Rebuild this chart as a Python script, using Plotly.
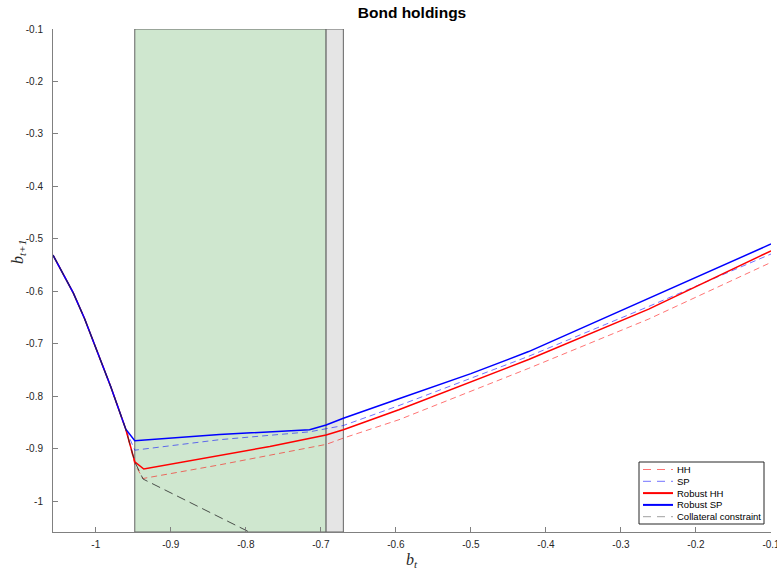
import plotly.graph_objects as go

# Common left branch (all policies coincide; collateral constraint binds)
x_left = [-1.057, -1.045, -1.03, -1.015, -1.0, -0.98, -0.96]
y_left = [-0.531, -0.562, -0.603, -0.652, -0.708, -0.782, -0.863]

# HH (dashed red)
x_hh = [-0.948, -0.937, -0.835, -0.693, -0.670, -0.596, -0.423, -0.263, -0.1]
y_hh = [-0.930, -0.957, -0.931, -0.892, -0.880, -0.845, -0.747, -0.653, -0.545]

# SP (dashed blue)
x_sp = [-0.948, -0.835, -0.715, -0.670, -0.596, -0.423, -0.263, -0.1]
y_sp = [-0.903, -0.883, -0.868, -0.856, -0.818, -0.724, -0.629, -0.529]

# Robust HH (solid red)
x_rhh = [-0.948, -0.936, -0.835, -0.768, -0.693, -0.670, -0.596, -0.423, -0.263, -0.1]
y_rhh = [-0.925, -0.939, -0.913, -0.896, -0.874, -0.864, -0.826, -0.730, -0.634, -0.523]

# Robust SP (solid blue)
x_rsp = [-0.948, -0.835, -0.715, -0.693, -0.670, -0.596, -0.5, -0.423, -0.263, -0.1]
y_rsp = [-0.885, -0.873, -0.864, -0.855, -0.842, -0.805, -0.757, -0.715, -0.613, -0.510]

# Collateral constraint (continuation after the left branch)
x_cc = [-0.948, -0.937, -0.80, -0.78]
y_cc = [-0.925, -0.958, -1.056, -1.070]

# Shaded regions
green_x = [-0.948, -0.693]
gray_x = [-0.693, -0.670]

x_ticks = [-1, -0.9, -0.8, -0.7, -0.6, -0.5, -0.4, -0.3, -0.2, -0.1]
x_ticklabels = ["-1", "-0.9", "-0.8", "-0.7", "-0.6", "-0.5", "-0.4", "-0.3", "-0.2", "-0.1"]
y_ticks = [-1, -0.9, -0.8, -0.7, -0.6, -0.5, -0.4, -0.3, -0.2, -0.1]
y_ticklabels = ["-1", "-0.9", "-0.8", "-0.7", "-0.6", "-0.5", "-0.4", "-0.3", "-0.2", "-0.1"]

legend_names = ["HH", "SP", "Robust HH", "Robust SP", "Collateral constraint"]

x_range = [-1.057, -0.1]
y_range = [-1.059, -0.1]

W, H = 777, 569
ML, MR, MT, MB = 53, 6, 29, 37
PW, PH = W - ML - MR, H - MT - MB


def px(xp):
    return (xp - ML) / PW


def py(yp):
    return (H - MB - yp) / PH


hh_line = dict(color="rgba(255,0,0,0.55)", width=1, dash="6px,4px")
sp_line = dict(color="rgba(0,0,255,0.55)", width=1, dash="6px,4px")
rhh_line = dict(color="rgb(255,0,0)", width=1.5)
rsp_line = dict(color="rgb(0,0,255)", width=1.5)
cc_line = dict(color="rgba(40,40,40,0.8)", width=1, dash="9px,5px")

fig = go.Figure()
fig.add_trace(go.Scatter(x=x_left + x_hh, y=y_left + y_hh, mode="lines", name=legend_names[0], line=hh_line))
fig.add_trace(go.Scatter(x=x_left + x_sp, y=y_left + y_sp, mode="lines", name=legend_names[1], line=sp_line))
fig.add_trace(go.Scatter(x=x_left + x_rhh, y=y_left + y_rhh, mode="lines", name=legend_names[2], line=rhh_line))
fig.add_trace(go.Scatter(x=x_left + x_rsp, y=y_left + y_rsp, mode="lines", name=legend_names[3], line=rsp_line))
fig.add_trace(go.Scatter(x=x_left + x_cc, y=y_left + y_cc, mode="lines", name=legend_names[4], line=cc_line))

fig.add_shape(type="rect", xref="x", yref="y", x0=green_x[0], x1=green_x[1],
              y0=y_range[0], y1=y_range[1], fillcolor="rgb(207,231,207)",
              line=dict(color="rgb(100,100,100)", width=1), layer="below")
fig.add_shape(type="rect", xref="x", yref="y", x0=gray_x[0], x1=gray_x[1],
              y0=y_range[0], y1=y_range[1], fillcolor="rgb(229,229,229)",
              line=dict(color="rgb(100,100,100)", width=1), layer="below")

# Custom compact legend (MATLAB style)
leg_left, leg_right, leg_top, leg_bottom = 639, 764, 462, 524
fig.add_shape(type="rect", xref="paper", yref="paper",
              x0=px(leg_left), x1=px(leg_right), y0=py(leg_bottom), y1=py(leg_top),
              fillcolor="white", line=dict(color="#262626", width=1), layer="above")
leg_styles = [
    dict(color="rgba(255,0,0,0.55)", width=1, dash="8px,6px"),
    dict(color="rgba(0,0,255,0.55)", width=1, dash="8px,6px"),
    dict(color="rgb(255,0,0)", width=2),
    dict(color="rgb(0,0,255)", width=2),
    dict(color="rgb(160,160,160)", width=1, dash="8px,6px"),
]
leg_y0, leg_dy = 469.5, 11.8
for i, (name, st) in enumerate(zip(legend_names, leg_styles)):
    yy = leg_y0 + i * leg_dy
    fig.add_shape(type="line", xref="paper", yref="paper",
                  x0=px(643), x1=px(673), y0=py(yy), y1=py(yy), line=st, layer="above")
    fig.add_annotation(xref="paper", yref="paper", x=px(675), y=py(yy), text=name,
                       showarrow=False, xanchor="left", yanchor="middle",
                       font=dict(family="Liberation Sans, Arial, sans-serif", size=9.5, color="black"))

axis_font = dict(family="Liberation Sans, Arial, sans-serif", size=10, color="#262626")
label_font = dict(family="Liberation Serif, DejaVu Serif, serif", size=16, color="#262626")

# Axis titles as annotations for precise placement
fig.add_annotation(xref="paper", yref="paper", x=0.5, y=py(560), text="<i>b<sub>t</sub></i>",
                   showarrow=False, xanchor="center", yanchor="middle", font=label_font)
fig.add_annotation(xref="paper", yref="paper", x=px(18), y=py(252), text="<i>b<sub>t+1</sub></i>",
                   showarrow=False, xanchor="center", yanchor="middle", textangle=-90, font=label_font)

fig.update_layout(
    width=W, height=H,
    margin=dict(l=ML, r=MR, t=MT, b=MB),
    paper_bgcolor="white", plot_bgcolor="white",
    showlegend=False,
    title=dict(text="<b>Bond holdings</b>", x=0.5, xanchor="center", xref="paper",
               y=(H - 13) / H, yref="container", yanchor="middle",
               font=dict(family="Liberation Sans, Arial, sans-serif", size=15.5, color="black")),
    xaxis=dict(range=x_range, tickvals=x_ticks, ticktext=x_ticklabels, automargin=False,
               showgrid=False, zeroline=False, showline=True, linecolor="#808080", linewidth=1,
               ticks="inside", ticklen=5, tickcolor="#808080", tickfont=axis_font,
               ticklabeloverflow="allow", ticklabelstandoff=3),
    yaxis=dict(range=y_range, tickvals=y_ticks, ticktext=y_ticklabels, automargin=False,
               showgrid=False, zeroline=False, showline=True, linecolor="#808080", linewidth=1,
               ticks="inside", ticklen=5, tickcolor="#808080", tickfont=axis_font,
               ticklabeloverflow="allow", ticklabelstandoff=7),
)

fig.write_html("out.html", config={"displayModeBar": False},
               post_script="document.body.style.margin='0';document.body.style.overflow='hidden';")
